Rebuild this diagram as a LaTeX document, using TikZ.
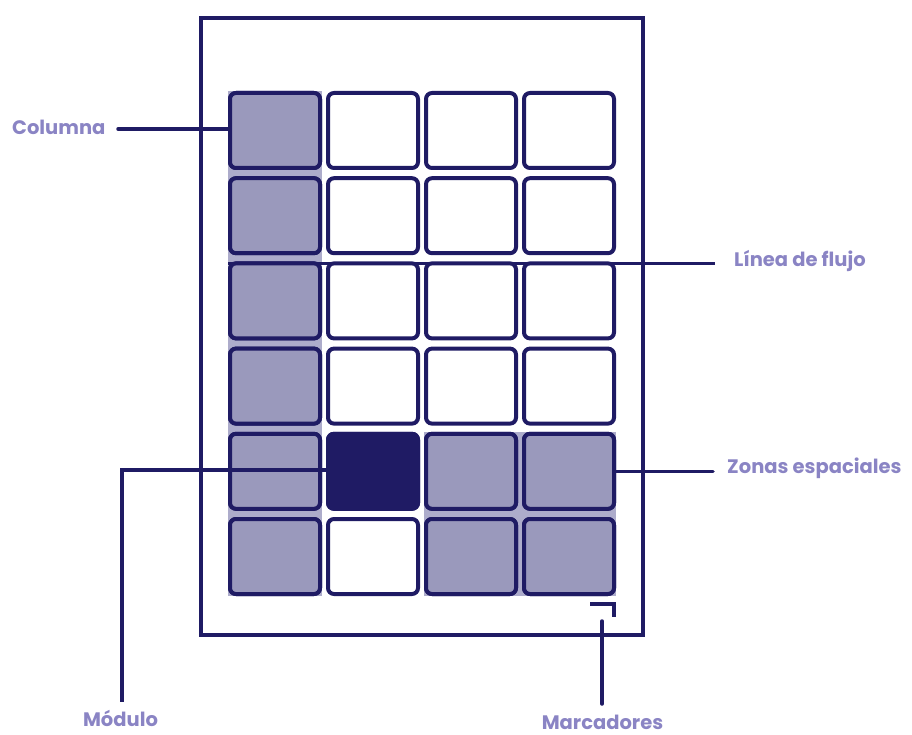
\documentclass[tikz,border=0pt]{standalone}
\usepackage{fontspec}
\setmainfont{Poppins}[BoldFont={* Bold}]
\definecolor{navy}{HTML}{1F1B64}
\definecolor{cellfill}{HTML}{9A99BC}
\definecolor{bandfill}{HTML}{ADACCB}
\definecolor{labtext}{HTML}{8A84C4}
\tikzset{
  cellbox/.style={draw=navy, line width=4pt, rounded corners=6pt, minimum width=90pt, minimum height=75pt, inner sep=0pt, fill=white},
  graycell/.style={cellbox, fill=cellfill},
  darkcell/.style={cellbox, fill=navy},
  conn/.style={draw=navy, line width=3.5pt, line cap=round},
  lab/.style={text=labtext, font=\fontsize{19.5}{21}\selectfont\bfseries, inner sep=0pt}
}
\begin{document}
\begin{tikzpicture}[x=1pt,y=-1pt]
\useasboundingbox (0,0) rectangle (912,735);
% page
\draw[navy, line width=4pt] (200.5,18) rectangle (642.5,635);
% bands
\fill[bandfill] (228,91) rectangle (322,596);
\fill[bandfill] (424,431.8) rectangle (616,596);
% cells
\foreach \c/\x in {1/275,2/373,3/471,4/569}{
  \foreach \r/\y in {1/130.5,2/215.7,3/300.9,4/386.1,5/471.3,6/556.5}{
    \node[cellbox] (c\c\r) at (\x,\y) {};
  }
}
\foreach \r/\y in {1/130.5,2/215.7,3/300.9,4/386.1,5/471.3,6/556.5}{
  \node[graycell] (c1\r) at (275,\y) {};
}
\node[graycell] (c35) at (471,471.3) {};
\node[graycell] (c45) at (569,471.3) {};
\node[graycell] (c36) at (471,556.5) {};
\node[graycell] (c46) at (569,556.5) {};
\node[darkcell] (c25) at (373,471.3) {};
% labels
\node[lab, anchor=base west] (lcol) at (12,134.5) {Columna};
\node[lab, anchor=base west] (lflu) at (734,266) {Línea de flujo};
\node[lab, anchor=base west] (lzon) at (727,473.3) {Zonas espaciales};
\node[lab, anchor=base] (lmod) at (120.5,726.7) {Módulo};
\node[lab, anchor=base, text depth=0pt] (lmar) at (602.5,729) {Marcadores};
% coordinates
\coordinate (colend) at (118,129);
\coordinate (fluend) at (715,263.4);
\coordinate (zonend) at (713,471.3);
\coordinate (modcorner) at (122,470);
\coordinate (modend) at (122,702);
\coordinate (mk1) at (590,604);
\coordinate (mk2) at (614,617);
\coordinate (mkstart) at (602,621);
\coordinate (mkend) at (602,704);
% connectors
\draw[conn] (colend) -- (c11.west |- colend);
\draw[conn, line cap=butt] (c13.west |- fluend) -- (fluend);
\draw[conn] (c45.east) -- (zonend);
\draw[conn, line cap=butt] (c25.west |- modcorner) -- (modcorner) -- (modend);
\draw[conn, line cap=butt] (mk1) -| (mk2);
\draw[conn] (mkstart) -- (mkend);
\end{tikzpicture}
\end{document}
